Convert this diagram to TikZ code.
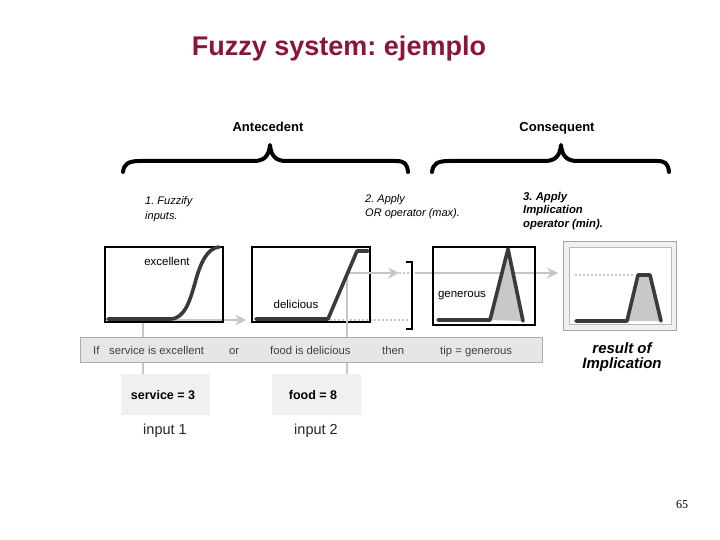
\documentclass[tikz,border=0pt]{standalone}
\usepackage{fontspec}
\setmainfont{Liberation Sans}
\newfontfamily\seriffont{Liberation Serif}
\usetikzlibrary{arrows.meta}
\frenchspacing
\definecolor{titlered}{HTML}{8B1538}
\definecolor{linegray}{HTML}{C6C6C6}
\definecolor{curvegray}{HTML}{3A3A3A}
\definecolor{fillgray}{HTML}{C8C8C8}
\definecolor{barfill}{HTML}{E6E6E6}
\definecolor{inbox}{HTML}{F0F0F0}
\definecolor{bartext}{HTML}{404040}
\begin{document}
\begin{tikzpicture}[x=1pt,y=-1pt,
  mfbox/.style={draw=black,line width=1.6pt,inner sep=0pt,anchor=north west},
  curve/.style={draw=curvegray,line width=3.6pt,line cap=round,line join=round},
  guide/.style={draw=linegray,line width=2.4pt},
  guidearrow/.style={guide,-{Stealth[length=11pt,width=11pt]}},
  dotline/.style={draw=linegray,line width=1.2pt,dash pattern=on 2pt off 2pt},
  bracepath/.style={line width=4pt,line cap=round,line join=round},
  head/.style={font=\bfseries\fontsize{13}{15}\selectfont,anchor=base,inner sep=0pt},
  stepnote/.style={font=\itshape\fontsize{11}{13}\selectfont,anchor=base west,inner sep=0pt},
  stepnotebold/.style={font=\bfseries\itshape\fontsize{11.3}{13}\selectfont,anchor=base west,inner sep=0pt},
  mflabel/.style={font=\fontsize{11.5}{13}\selectfont,anchor=base,inner sep=0pt},
  bartxt/.style={font=\fontsize{11.3}{13}\selectfont,text=bartext,anchor=base west,inner sep=0pt},
  inputbox/.style={fill=inbox,minimum width=89pt,minimum height=41pt,inner sep=0pt,anchor=north west},
  inputval/.style={font=\bfseries\fontsize{12.5}{14}\selectfont,anchor=base,inner sep=0pt},
  inputname/.style={font=\fontsize{14.5}{16}\selectfont,anchor=base,inner sep=0pt,text=black!85}
]
\useasboundingbox (0,0) rectangle (720,540);

% title
\node (title) [font=\bfseries\fontsize{27}{31}\selectfont,text=titlered,anchor=base,inner sep=0pt] at (339,56) {Fuzzy system: ejemplo};

% headings and braces
\node (ant) [head] at (268,132) {Antecedent};
\node (con) [head] at (557,132) {Consequent};
\draw[bracepath] (123,172) .. controls (124,164) and (128,161) .. (140,161) -- (254,161)
  .. controls (264,161) and (269,156) .. (270,145)
  .. controls (271,156) and (276,161) .. (286,161) -- (396,161)
  .. controls (405,161) and (407,164) .. (408,172);
\draw[bracepath] (432,172) .. controls (433,164) and (437,161) .. (449,161) -- (545,161)
  .. controls (555,161) and (560,156) .. (561,145)
  .. controls (562,156) and (567,161) .. (577,161) -- (657,161)
  .. controls (666,161) and (668,164) .. (669,172);

% step notes
\node (s1a) [stepnote] at (145,205) {1. Fuzzify};
\node (s1b) [stepnote] at (145,219) {inputs.};
\node (s2a) [stepnote] at (365,203) {2. Apply};
\node (s2b) [stepnote] at (365,217) {OR operator (max).};
\node (s3a) [stepnotebold] at (523,201) {3. Apply};
\node (s3b) [stepnotebold] at (523,214) {Implication};
\node (s3c) [stepnotebold] at (523,228) {operator (min).};

% input boxes
\node (svc) [inputbox] at (121,374) {};
\node (food) [inputbox] at (272,374) {};
\node (svcv) [inputval] at (163,399) {service = 3};
\node (foodv) [inputval] at (313,399) {food = 8};
\node (in1) [inputname] at (165,434) {input 1};
\node (in2) [inputname] at (316,434) {input 2};

% guide coordinates
\coordinate (j1) at (143,320);
\coordinate (a1) at (246,320);
\coordinate (j2) at (347,273);
\coordinate (a2) at (399,273);
\coordinate (br2) at (410,273);
\coordinate (a3s) at (415,273);
\coordinate (a3) at (558,273);

% guide lines (behind rule bar)
\draw[guide] (j1) -- (j1 |- svc.north);
\draw[guide] (j2) -- (j2 |- food.north);
\draw[guidearrow] (j1) -- (a1);
\draw[guidearrow] (j2) -- (a2);
\draw[dotline] (a2) -- (br2);
\draw[dotline] (330,320) -- (410,320);
\draw[guidearrow] (a3s) -- (a3);

% rule bar
\node (bar) [draw=gray!65,line width=0.8pt,fill=barfill,minimum width=462pt,minimum height=25pt,inner sep=0pt,anchor=north west] at (80,337) {};
\node (tif) [bartxt] at (93,354) {If};
\node (tsvc) [bartxt] at (109,354) {service is excellent};
\node (tor) [bartxt] at (229,354) {or};
\node (tfood) [bartxt] at (270,354) {food is delicious};
\node (tthen) [bartxt] at (382,354) {then};
\node (ttip) [bartxt] at (440,354) {tip = generous};

% membership boxes
\node (b1) [mfbox,minimum width=118pt,minimum height=75pt] at (104,246) {};
\node (b2) [mfbox,minimum width=118pt,minimum height=75pt] at (251,246) {};
\node (b3) [mfbox,minimum width=102pt,minimum height=78pt] at (432,246) {};
\node (b4) [draw=gray!70,line width=1pt,fill=inbox,minimum width=113pt,minimum height=89pt,inner sep=0pt,anchor=north west] at (563,241) {};
\node (b4i) [draw=gray!55,line width=0.6pt,fill=white,minimum width=102pt,minimum height=77pt,inner sep=0pt,anchor=north west] at (569,247) {};
\draw[guide] (j2) -- (b2.east |- j2);
\draw[guide] (j2) -- (j2 |- b2.south);

% curves
\draw[curve] (108,319) -- (170,319) .. controls (185,319) and (190,300) .. (195,283)
  .. controls (200,264) and (207,248) .. (219,247);
\draw[curve] (256,319) -- (328,319) -- (357,251) -- (368,251);
\fill[fillgray] (490,320) -- (508,249) -- (523,321) -- cycle;
\draw[curve] (438,320) -- (490,320) -- (508,249) -- (523,321);
\draw[dotline] (575,275) -- (633,275);
\fill[fillgray] (627,321) -- (638,275) -- (650,275) -- (661,321) -- cycle;
\draw[curve] (576,321) -- (627,321) -- (638,275) -- (650,275) -- (661,321);

% labels in boxes
\node (lexc) [mflabel] at (167,265) {excellent};
\node (ldel) [mflabel] at (296,308) {delicious};
\node (lgen) [mflabel] at (462,297) {generous};

% bracket
\draw[line width=2.6pt] (406,262) -- (412,262) -- (412,329) -- (406,329);

% result caption
\node (res1) [font=\bfseries\itshape\fontsize{15}{17}\selectfont,anchor=base,inner sep=0pt] at (622,353) {result of};
\node (res2) [font=\bfseries\itshape\fontsize{15}{17}\selectfont,anchor=base,inner sep=0pt] at (622,368) {Implication};

% page number
\node (pnum) [font=\seriffont\fontsize{12}{14}\selectfont,anchor=base,inner sep=0pt] at (682,508) {65};
\end{tikzpicture}
\end{document}
